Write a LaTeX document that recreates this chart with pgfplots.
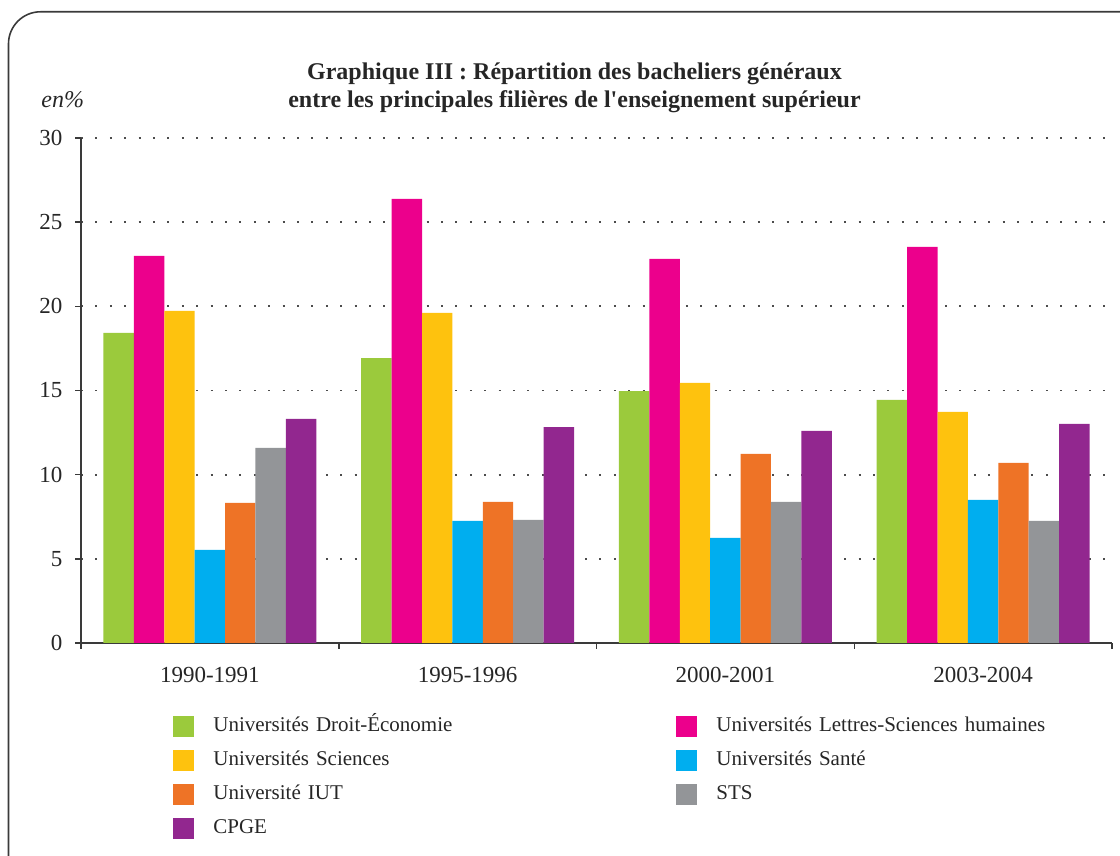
\documentclass[border=0pt]{standalone}
\usepackage{fontspec}
\setmainfont{Liberation Serif}
\usepackage{pgfplots}
\pgfplotsset{compat=1.18}
\definecolor{cgreen}{HTML}{9BCA3C}
\definecolor{cpink}{HTML}{EC008C}
\definecolor{cyellow}{HTML}{FEC20E}
\definecolor{cblue}{HTML}{00AEEF}
\definecolor{corange}{HTML}{EE7326}
\definecolor{cgray}{HTML}{939598}
\definecolor{cpurple}{HTML}{92278F}
\definecolor{axisgray}{HTML}{3A3A3A}
\pgfplotsset{mylegend/.style={legend image code/.code={\fill[##1] (0pt,-5.25pt) rectangle (10.5pt,5.25pt); \path[draw=none,fill=none] (0pt,0pt) rectangle (20pt,0.1pt);}}}
\begin{document}
\begin{tikzpicture}
\useasboundingbox (-40.5pt,-106.5pt) rectangle (519.5pt,321.5pt);
\draw[line width=0.8pt, axisgray, rounded corners=16pt] (-36.25pt,-130pt) rectangle (540pt,315.6pt);
\begin{axis}[
  scale only axis, width=515.5pt, height=252.5pt,
  at={(0pt,0pt)}, anchor=south west,
  xmin=-0.5, xmax=3.5, ymin=0, ymax=30,
  axis x line*=bottom, axis y line*=left,
  axis line style={axisgray, line width=0.75pt, -},
  ybar=0pt, bar width=0.118,
  xtick={-0.5,0.5,1.5,2.5,3.5},
  x tick label as interval,
  xticklabels={1990-1991,1995-1996,2000-2001,2003-2004},
  ytick={0,5,...,30},
  tick align=outside,
  major tick length=2.8pt,
  tick style={axisgray, line width=0.75pt},
  ymajorgrids,
  grid style={dash pattern=on 1pt off 6.2pt, line width=0.9pt, color=black!70},
  tick label style={font=\fontsize{11.5}{13}\selectfont, text=black!85},
  xticklabel style={yshift=-6pt},
  yticklabel style={xshift=-3pt},
  /pgf/number format/assume math mode=true,
  legend columns=2,
  legend cell align=left,
  legend style={draw=none, fill=none, inner sep=0pt, at={(0.0892,-0.1436)}, anchor=north west,
    font=\fontsize{10.5}{12}\selectfont, row sep=6.5pt, column sep=0pt, text=black!85,
    nodes={inner sep=0pt, text height=7pt, text depth=2pt, text width=231.5pt, align=left}},
]
\addplot[fill=cgreen, draw=none, mylegend] coordinates {(0,18.42) (1,16.93) (2,14.97) (3,14.44)};
\addplot[fill=cpink, draw=none, mylegend] coordinates {(0,23.0) (1,26.38) (2,22.82) (3,23.53)};
\addplot[fill=cyellow, draw=none, mylegend] coordinates {(0,19.73) (1,19.61) (2,15.45) (3,13.73)};
\addplot[fill=cblue, draw=none, mylegend] coordinates {(0,5.53) (1,7.25) (2,6.24) (3,8.5)};
\addplot[fill=corange, draw=none, mylegend] coordinates {(0,8.32) (1,8.38) (2,11.23) (3,10.7)};
\addplot[fill=cgray, draw=none, mylegend] coordinates {(0,11.59) (1,7.31) (2,8.38) (3,7.25)};
\addplot[fill=cpurple, draw=none, mylegend] coordinates {(0,13.31) (1,12.83) (2,12.6) (3,13.01)};
\legend{Universités Droit-Économie, Universités Lettres-Sciences humaines, Universités Sciences, Universités Santé, Université IUT, STS, CPGE}
\end{axis}
\node[align=center, font=\fontsize{12}{14}\selectfont\bfseries, text=black!85] at (246.75pt,277.5pt) {Graphique III : Répartition des bacheliers généraux\\entre les principales filières de l\textquotesingle enseignement supérieur};
\node[anchor=west, inner sep=0pt, font=\fontsize{12}{14}\selectfont\itshape, text=black!85] at (-20pt,271.5pt) {en\%};
\end{tikzpicture}
\end{document}
